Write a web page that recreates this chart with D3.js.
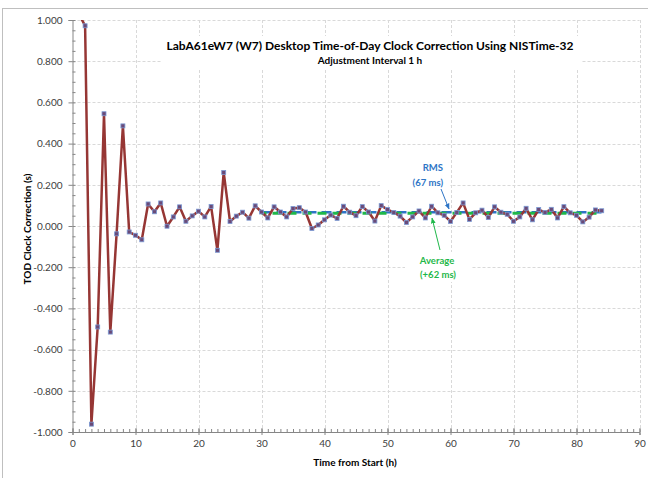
<!DOCTYPE html>
<html>
<head>
<meta charset="utf-8">
<script src="https://cdn.jsdelivr.net/npm/d3@7"></script>
<style>
body { margin: 0; background: #fff; }
svg { font-family: Lato, "Open Sans", sans-serif; }
</style>
</head>
<body>
<div id="chart"></div>
<script>
// hours from start and TOD clock correction (s)
var hours = [1,2,3,4,5,6,7,8,9,10,11,12,13,14,15,16,17,18,19,20,21,22,23,24,25,26,27,28,29,30,
  31,32,33,34,35,36,37,38,39,40,41,42,43,44,45,46,47,48,49,50,51,52,53,54,55,56,57,58,59,60,
  61,62,63,64,65,66,67,68,69,70,71,72,73,74,75,76,77,78,79,80,81,82,83,84];
var correction = [1.03,0.972,-0.962,-0.49,0.545,-0.515,-0.038,0.486,-0.029,-0.045,
  -0.067,0.107,0.069,0.112,-0.001,0.044,0.093,0.023,0.049,0.072,
  0.044,0.095,-0.118,0.26,0.022,0.048,0.067,0.038,0.098,0.068,
  0.039,0.093,0.068,0.044,0.085,0.089,0.068,-0.012,0.005,0.030,
  0.053,0.037,0.096,0.067,0.050,0.094,0.068,0.024,0.099,0.080,
  0.066,0.048,0.017,0.044,0.073,0.039,0.096,0.064,0.052,0.022,
  0.066,0.112,0.032,0.064,0.077,0.041,0.093,0.067,0.057,0.023,
  0.044,0.086,0.030,0.080,0.066,0.081,0.039,0.094,0.064,0.052,
  0.020,0.043,0.078,0.074];
var statHours = [30, 84];
var rmsValue = 0.067;
var avgValue = 0.062;
var xTicks = [0,10,20,30,40,50,60,70,80,90];
var yTicks = [-1,-0.8,-0.6,-0.4,-0.2,0,0.2,0.4,0.6,0.8,1];

var width = 648, height = 478;
var svg = d3.select('#chart').append('svg').attr('width', width).attr('height', height);

// outer chart frame
svg.append('rect').attr('x', 2.5).attr('y', 8.5).attr('width', 700).attr('height', 600)
  .attr('fill', 'none').attr('stroke', '#bfbfbf').attr('stroke-width', 1);

var x = d3.scaleLinear().domain([0, 90]).range([72.5, 639.5]);
var y = d3.scaleLinear().domain([-1, 1]).range([432, 20]);

// gridlines
var grid = svg.append('g').attr('stroke', '#d9d9d9').attr('stroke-dasharray', '3,2').attr('stroke-width', 1);
grid.selectAll('.gx').data(xTicks.slice(1)).enter().append('line')
  .attr('x1', d => Math.round(x(d)) + 0.5).attr('x2', d => Math.round(x(d)) + 0.5)
  .attr('y1', y(1)).attr('y2', y(-1));
grid.selectAll('.gy').data(yTicks.slice(1)).enter().append('line')
  .attr('x1', x(0)).attr('x2', x(90))
  .attr('y1', d => Math.round(y(d)) + 0.5).attr('y2', d => Math.round(y(d)) + 0.5);

// white boxes behind title and labels (hide gridlines)
svg.append('rect').attr('x', 161).attr('y', 36).attr('width', 420).attr('height', 33).attr('fill', '#fff');
svg.append('rect').attr('x', 380).attr('y', 158).attr('width', 70).attr('height', 32).attr('fill', '#fff');
svg.append('rect').attr('x', 405).attr('y', 252).attr('width', 66).attr('height', 30).attr('fill', '#fff');

var fmt = d => Math.abs(d) < 1e-9 ? '0.000' : d.toFixed(3);

// y axis
var yAxis = svg.append('g').attr('transform', `translate(${x(0)},0)`)
  .call(d3.axisLeft(y).tickValues(yTicks).tickFormat(fmt).tickSize(4).tickPadding(6));
svg.append('g').attr('transform', `translate(${x(0)},0)`)
  .call(d3.axisRight(y).tickValues(d3.range(-1, 1.0001, 0.05)).tickFormat('').tickSize(3))
  .select('.domain').remove();

// x axis
var xAxis = svg.append('g').attr('transform', `translate(0,${y(-1)})`)
  .call(d3.axisBottom(x).tickValues(xTicks).tickFormat(d3.format('d')).tickSize(3).tickPadding(5));
xAxis.selectAll('.tick line').attr('y1', -4);
svg.append('g').attr('transform', `translate(0,${y(-1)})`)
  .call(d3.axisTop(x).tickValues(d3.range(0, 91, 1)).tickFormat('').tickSize(3))
  .select('.domain').remove();

svg.selectAll('.domain').attr('stroke', '#868686');
svg.selectAll('.tick line').attr('stroke', '#868686');
svg.selectAll('.tick text').attr('fill', '#404040').style('font-size', '10px').style('font-family', 'Lato, sans-serif');

// clip to plot area
svg.append('clipPath').attr('id', 'plot').append('rect')
  .attr('x', x(0)).attr('y', y(1)).attr('width', x(90) - x(0)).attr('height', y(-1) - y(1));

var plot = svg.append('g').attr('clip-path', 'url(#plot)');

// RMS line
plot.append('line')
  .attr('x1', x(statHours[0])).attr('x2', x(statHours[1]))
  .attr('y1', y(rmsValue)).attr('y2', y(rmsValue))
  .attr('stroke', '#2e75c6').attr('stroke-width', 2.5).attr('stroke-dasharray', '10,5');
// Average line
plot.append('line')
  .attr('x1', x(statHours[0])).attr('x2', x(statHours[1]))
  .attr('y1', y(avgValue)).attr('y2', y(avgValue))
  .attr('stroke', '#1fb84a').attr('stroke-width', 3).attr('stroke-dasharray', '9,6')
  .attr('stroke-dashoffset', 4);

var data = hours.map((h, i) => ({h: h, v: correction[i]}));

var line = d3.line().x(d => x(d.h)).y(d => y(d.v));
plot.append('path').datum(data).attr('d', line)
  .attr('fill', 'none').attr('stroke', '#963634').attr('stroke-width', 2.5)
  .attr('stroke-linejoin', 'round');

plot.selectAll('.pt').data(data).enter().append('rect')
  .attr('x', d => x(d.h) - 2).attr('y', d => y(d.v) - 2)
  .attr('width', 4).attr('height', 4)
  .attr('fill', '#6a4a78').attr('stroke', '#7b9ad4').attr('stroke-width', 0.8);

// titles
svg.append('text').attr('x', 370).attr('y', 50).attr('text-anchor', 'middle')
  .style('font-size', '12px').style('font-weight', 'bold').attr('fill', '#000')
  .text('LabA61eW7 (W7) Desktop Time-of-Day Clock Correction Using NISTime-32');
svg.append('text').attr('x', 370).attr('y', 64).attr('text-anchor', 'middle')
  .style('font-size', '10px').style('font-weight', 'bold').attr('fill', '#000')
  .text('Adjustment Interval 1 h');

svg.append('text').attr('x', 355).attr('y', 466).attr('text-anchor', 'middle')
  .style('font-size', '10px').style('font-weight', 'bold').attr('fill', '#000')
  .text('Time from Start (h)');
svg.append('text').attr('transform', 'translate(31,229)rotate(-90)').attr('text-anchor', 'middle')
  .style('font-size', '10px').style('font-weight', 'bold').attr('fill', '#000')
  .text('TOD Clock Correction (s)');

// annotations
var defs = svg.append('defs');
[['arrBlue', '#2e75c6'], ['arrGreen', '#1fb84a']].forEach(function (m) {
  defs.append('marker').attr('id', m[0]).attr('viewBox', '0 0 10 10').attr('refX', 9).attr('refY', 5)
    .attr('markerWidth', 6).attr('markerHeight', 6).attr('orient', 'auto')
    .append('path').attr('d', 'M0,1L10,5L0,9Z').attr('fill', m[1]);
});

svg.append('text').attr('x', 443).attr('y', 171).attr('text-anchor', 'end')
  .style('font-size', '9.5px').style('font-weight', 'bold').attr('fill', '#2e75c6').text('RMS');
svg.append('text').attr('x', 443).attr('y', 186).attr('text-anchor', 'end')
  .style('font-size', '9.5px').style('font-weight', 'bold').attr('fill', '#2e75c6').text('(67 ms)');
svg.append('line').attr('x1', 441).attr('y1', 189).attr('x2', 449).attr('y2', 209)
  .attr('stroke', '#2e75c6').attr('stroke-width', 1).attr('marker-end', 'url(#arrBlue)');

svg.append('text').attr('x', 437).attr('y', 264).attr('text-anchor', 'middle')
  .style('font-size', '9.5px').style('font-weight', 'bold').attr('fill', '#1fb84a').text('Average');
svg.append('text').attr('x', 438).attr('y', 278).attr('text-anchor', 'middle')
  .style('font-size', '9.5px').style('font-weight', 'bold').attr('fill', '#1fb84a').text('(+62 ms)');
svg.append('line').attr('x1', 440).attr('y1', 250).attr('x2', 432).attr('y2', 218)
  .attr('stroke', '#1fb84a').attr('stroke-width', 1).attr('marker-end', 'url(#arrGreen)');
</script>
</body>
</html>
